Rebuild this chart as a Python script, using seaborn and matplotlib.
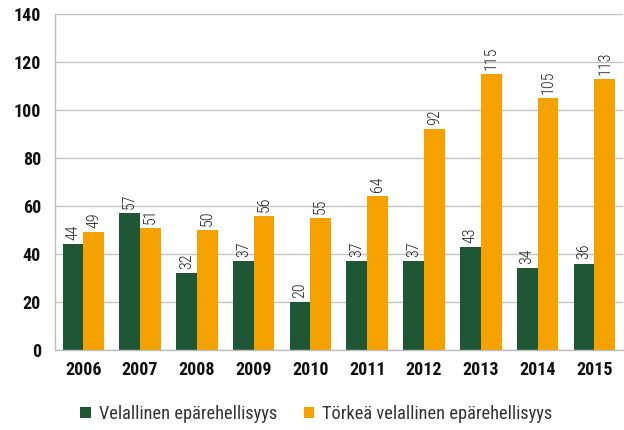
import numpy as np
import pandas as pd
import matplotlib
matplotlib.use("Agg")
import matplotlib.pyplot as plt
import seaborn as sns
from matplotlib import font_manager

years = ["2006", "2007", "2008", "2009", "2010", "2011", "2012", "2013", "2014", "2015"]
velallinen = [44, 57, 32, 37, 20, 37, 37, 43, 34, 36]
torkea = [49, 51, 50, 56, 55, 64, 92, 115, 105, 113]
series_names = ["Velallinen epärehellisyys", "Törkeä velallinen epärehellisyys"]
colors = ["#1f5635", "#f5a100"]

names = {f.name for f in font_manager.fontManager.ttflist}
narrow = "Roboto Condensed" if "Roboto Condensed" in names else "Roboto"

sns.set_style("white")
plt.rcParams["font.family"] = [narrow, "DejaVu Sans"]

df = pd.DataFrame({
    "year": years * 2,
    "value": velallinen + torkea,
    "series": [series_names[0]] * len(years) + [series_names[1]] * len(years),
})

fig = plt.figure(figsize=(6.24, 4.30), dpi=100)
ax = fig.add_axes([0.088, 0.186, 0.91, 0.781])

sns.barplot(data=df, x="year", y="value", hue="series", palette=colors,
            width=0.73, saturation=1, linewidth=0, ax=ax, legend=True)

ax.set_ylim(0, 140)
ax.set_xlim(-0.5, len(years) - 0.5)
ax.set_yticks(range(0, 141, 20))
ax.yaxis.grid(True, color="#c4c4c4", linewidth=1)
ax.set_axisbelow(True)
ax.set_xlabel("")
ax.set_ylabel("")

for side in ["top", "right"]:
    ax.spines[side].set_visible(False)
for side in ["left", "bottom"]:
    ax.spines[side].set_color("#bdbdbd")
    ax.spines[side].set_linewidth(1)

ax.tick_params(axis="y", length=6, color="#bdbdbd", labelsize=13, pad=4)
ax.tick_params(axis="x", length=0, labelsize=13, pad=8)
for lbl in ax.get_xticklabels() + ax.get_yticklabels():
    lbl.set_fontweight("bold")
    lbl.set_color("#111111")

# category separators on x axis
ax.set_xticks(np.arange(-0.5, len(years), 1.0), minor=True)
ax.tick_params(axis="x", which="minor", length=6, color="#bdbdbd")

for cont in ax.containers:
    ax.bar_label(cont, labels=[str(int(v)) for v in cont.datavalues],
                 rotation=90, padding=3, fontsize=11.5, fontweight="light",
                 color="#222222")

handles, labels = ax.get_legend_handles_labels()
ax.legend(handles, labels, loc="center", bbox_to_anchor=(0.507, 0.037),
          bbox_transform=fig.transFigure,
          ncol=2, frameon=False, prop={"size": 13.2},
          handlelength=0.55, handleheight=0.55,
          handletextpad=0.45, columnspacing=1.45, labelcolor="#333333")

fig.savefig("out.png", dpi=100)
